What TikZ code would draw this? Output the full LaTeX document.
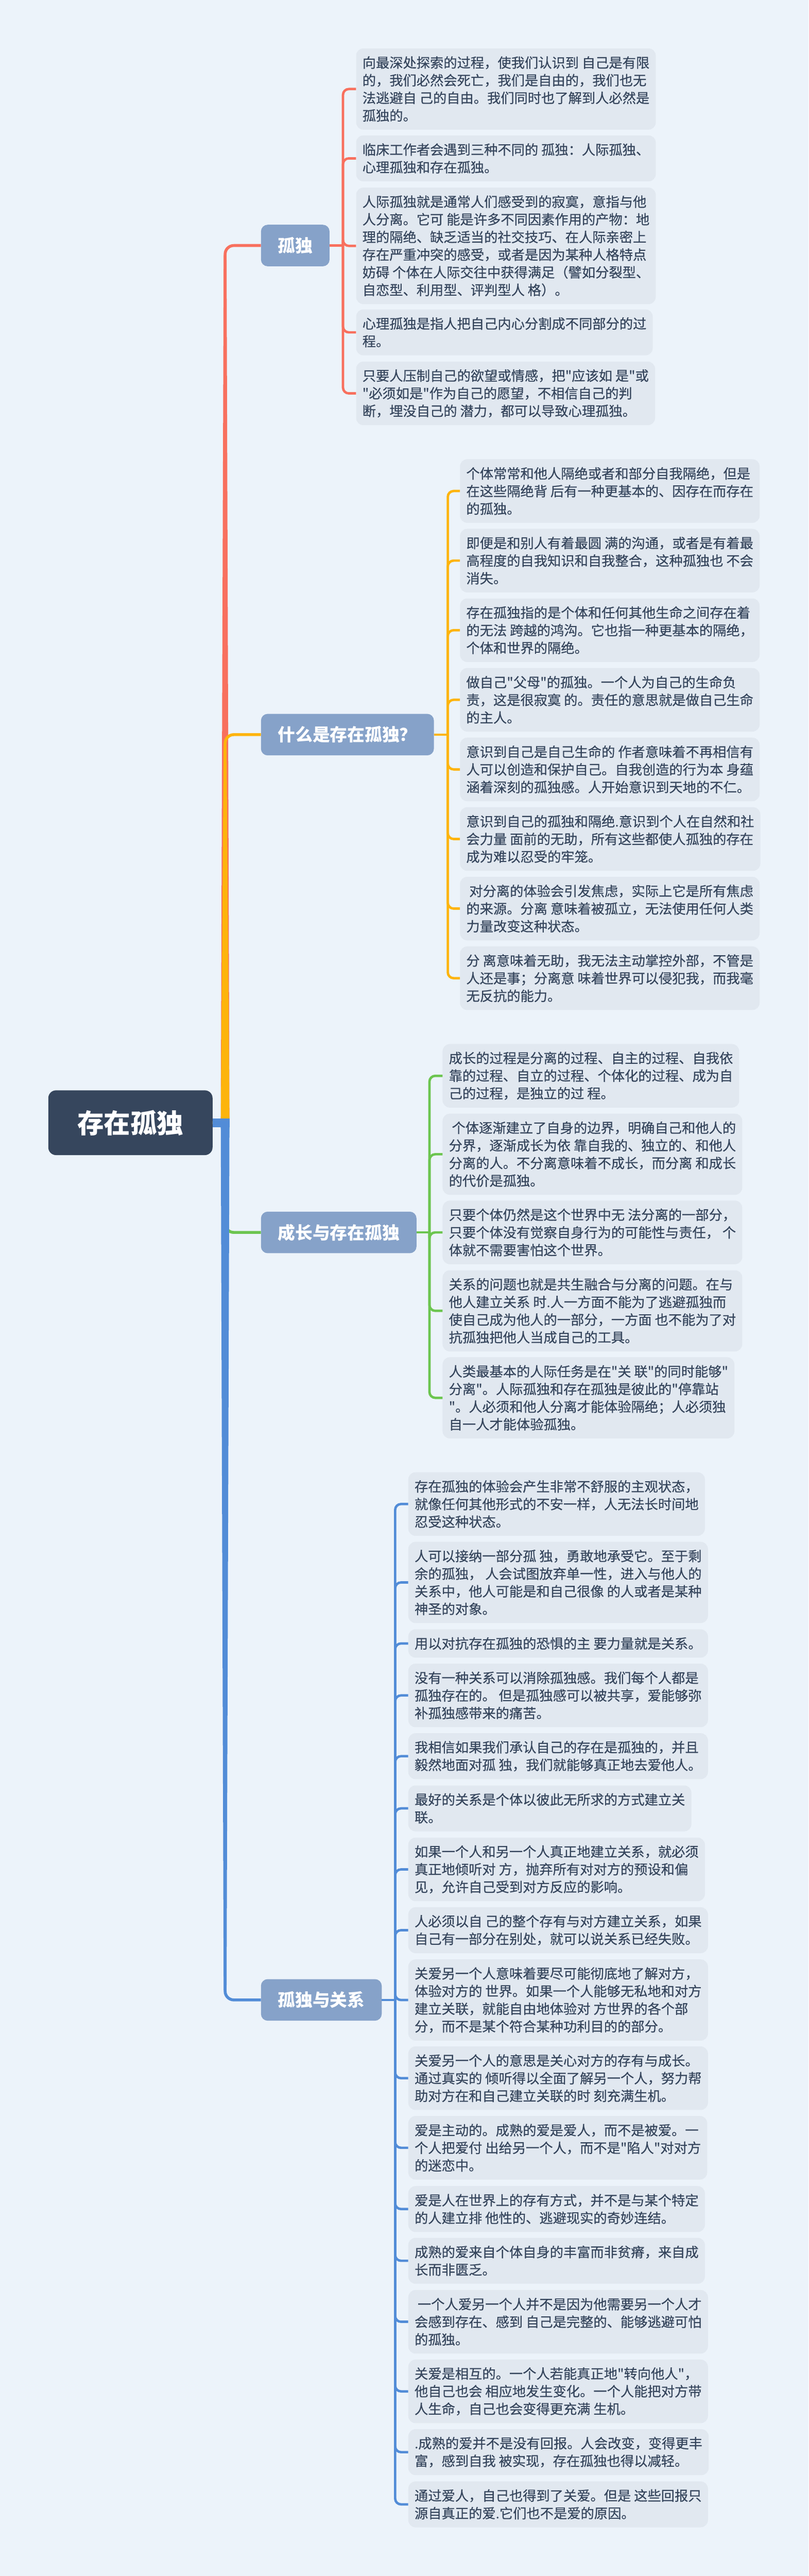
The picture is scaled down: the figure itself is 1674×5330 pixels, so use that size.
\documentclass[tikz,border=0pt]{standalone}
\usepackage{fontspec}
\newfontfamily\cjk{Noto Sans CJK SC}
\newfontfamily\cjkleaf{Noto Sans CJK SC}[FakeBold=0.6]
\usepackage{tikz}
\usetikzlibrary{calc}

\definecolor{bgblue}{HTML}{ECF3FA}
\definecolor{leaffill}{HTML}{E1E8F0}
\definecolor{inkslate}{HTML}{36465D}
\definecolor{branchfill}{HTML}{86A2C9}
\definecolor{linkred}{HTML}{F8705E}
\definecolor{linkyellow}{HTML}{FDB40C}
\definecolor{linkgreen}{HTML}{6CC550}
\definecolor{linkblue}{HTML}{528CD7}

\tikzset{
    rootbox/.style={fill=inkslate, rounded corners=16pt, text=white,
        font=\cjk\bfseries\fontsize{55}{60}\selectfont,
        minimum width=340pt, minimum height=134pt},
    branchbox/.style={fill=branchfill, rounded corners=14pt, anchor=west, text=white,
        font=\cjk\bfseries\fontsize{36}{40}\selectfont,
        inner xsep=35pt, minimum height=86pt},
    leafbox/.style={fill=leaffill, rounded corners=15pt, anchor=north west,
        align=left, text=inkslate, inner xsep=13pt, inner ysep=4pt,
        font=\cjkleaf\fontsize{28}{36.5}\selectfont,
        minimum height={36.5pt*#1+22pt}},
    mainlink/.style={line width=6pt, rounded corners=18pt},
    leaflink/.style={line width=5pt, rounded corners=12pt}
}

\begin{document}
\begin{tikzpicture}[x=1pt, y=-1pt]
        % Canvas
        \fill[bgblue] (0,0) rectangle (1674,5330);
        \useasboundingbox (0,0) rectangle (1674,5330);

        % Root and main branches
        \node[rootbox] (root) at (270,2323) {存在孤独};
        \node[branchbox] (gudu) at (540,508) {孤独};
        \node[branchbox] (shenme) at (540,1520) {什么是存在孤独？};
        \node[branchbox] (chengzhang) at (540,2550) {成长与存在孤独};
        \node[branchbox] (guanxi) at (540,4138) {孤独与关系};

        % Leaves of 孤独
        \node[leafbox=4] (A1) at (737,100) {向最深处探索的过程，使我们认识到 自己是有限\\的，我们必然会死亡，我们是自由的，我们也无\\法逃避自 己的自由。我们同时也了解到人必然是\\孤独的。};
        \node[leafbox=2] (A2) at (737,280) {临床工作者会遇到三种不同的 孤独：人际孤独、\\心理孤独和存在孤独。};
        \node[leafbox=6] (A3) at (737,388) {人际孤独就是通常人们感受到的寂寞，意指与他\\人分离。它可 能是许多不同因素作用的产物：地\\理的隔绝、缺乏适当的社交技巧、在人际亲密上\\存在严重冲突的感受，或者是因为某种人格特点\\妨碍 个体在人际交往中获得满足（譬如分裂型、\\自恋型、利用型、评判型人 格）。};
        \node[leafbox=2] (A4) at (737,640) {心理孤独是指人把自己内心分割成不同部分的过\\程。};
        \node[leafbox=3] (A5) at (737,748) {只要人压制自己的欲望或情感，把"应该如 是"或\\"必须如是"作为自己的愿望，不相信自己的判\\断，埋没自己的 潜力，都可以导致心理孤独。};

        % Leaves of 什么是存在孤独
        \node[leafbox=3] (B1) at (952,950) {个体常常和他人隔绝或者和部分自我隔绝，但是\\在这些隔绝背 后有一种更基本的、因存在而存在\\的孤独。};
        \node[leafbox=3] (B2) at (952,1094) {即便是和别人有着最圆 满的沟通，或者是有着最\\高程度的自我知识和自我整合，这种孤独也 不会\\消失。};
        \node[leafbox=3] (B3) at (952,1238) {存在孤独指的是个体和任何其他生命之间存在着\\的无法 跨越的鸿沟。它也指一种更基本的隔绝，\\个体和世界的隔绝。};
        \node[leafbox=3] (B4) at (952,1382) {做自己"父母"的孤独。一个人为自己的生命负\\责，这是很寂寞 的。责任的意思就是做自己生命\\的主人。};
        \node[leafbox=3] (B5) at (952,1526) {意识到自己是自己生命的 作者意味着不再相信有\\人可以创造和保护自己。自我创造的行为本 身蕴\\涵着深刻的孤独感。人开始意识到天地的不仁。};
        \node[leafbox=3] (B6) at (952,1670) {意识到自己的孤独和隔绝.意识到个人在自然和社\\会力量 面前的无助，所有这些都使人孤独的存在\\成为难以忍受的牢笼。};
        \node[leafbox=3] (B7) at (952,1814) {\ 对分离的体验会引发焦虑，实际上它是所有焦虑\\的来源。分离 意味着被孤立，无法使用任何人类\\力量改变这种状态。};
        \node[leafbox=3] (B8) at (952,1958) {分 离意味着无助，我无法主动掌控外部，不管是\\人还是事；分离意 味着世界可以侵犯我，而我毫\\无反抗的能力。};

        % Leaves of 成长与存在孤独
        \node[leafbox=3] (C1) at (916,2160) {成长的过程是分离的过程、自主的过程、自我依\\靠的过程、自立的过程、个体化的过程、成为自\\己的过程，是独立的过 程。};
        \node[leafbox=4] (C2) at (916,2304) {\ 个体逐渐建立了自身的边界，明确自己和他人的\\分界，逐渐成长为依 靠自我的、独立的、和他人\\分离的人。不分离意味着不成长，而分离 和成长\\的代价是孤独。};
        \node[leafbox=3] (C3) at (916,2484) {只要个体仍然是这个世界中无 法分离的一部分，\\只要个体没有觉察自身行为的可能性与责任，\ 个\\体就不需要害怕这个世界。};
        \node[leafbox=4] (C4) at (916,2628) {关系的问题也就是共生融合与分离的问题。在与\\他人建立关系 时.人一方面不能为了逃避孤独而\\使自己成为他人的一部分，一方面 也不能为了对\\抗孤独把他人当成自己的工具。};
        \node[leafbox=4] (C5) at (916,2808) {人类最基本的人际任务是在"关 联"的同时能够"\\分离"。人际孤独和存在孤独是彼此的"停靠站\\"。人必须和他人分离才能体验隔绝；人必须独\\自一人才能体验孤独。};

        % Leaves of 孤独与关系
        \node[leafbox=3] (D1) at (845,3046) {存在孤独的体验会产生非常不舒服的主观状态，\\就像任何其他形式的不安一样，人无法长时间地\\忍受这种状态。};
        \node[leafbox=4] (D2) at (845,3190) {人可以接纳一部分孤 独，勇敢地承受它。至于剩\\余的孤独，\ 人会试图放弃单一性，进入与他人的\\关系中，他人可能是和自己很像 的人或者是某种\\神圣的对象。};
        \node[leafbox=1] (D3) at (845,3371) {用以对抗存在孤独的恐惧的主 要力量就是关系。};
        \node[leafbox=3] (D4) at (845,3442) {没有一种关系可以消除孤独感。我们每个人都是\\孤独存在的。\ 但是孤独感可以被共享，爱能够弥\\补孤独感带来的痛苦。};
        \node[leafbox=2] (D5) at (845,3586) {我相信如果我们承认自己的存在是孤独的，并且\\毅然地面对孤 独，我们就能够真正地去爱他人。};
        \node[leafbox=2] (D6) at (845,3694) {最好的关系是个体以彼此无所求的方式建立关\\联。};
        \node[leafbox=3] (D7) at (845,3802) {如果一个人和另一个人真正地建立关系，就必须\\真正地倾听对 方，抛弃所有对对方的预设和偏\\见，允许自己受到对方反应的影响。};
        \node[leafbox=2] (D8) at (845,3946) {人必须以自 己的整个存有与对方建立关系，如果\\自己有一部分在别处，就可以说关系已经失败。};
        \node[leafbox=4] (D9) at (845,4054) {关爱另一个人意味着要尽可能彻底地了解对方，\\体验对方的 世界。如果一个人能够无私地和对方\\建立关联，就能自由地体验对 方世界的各个部\\分，而不是某个符合某种功利目的的部分。};
        \node[leafbox=3] (D10) at (845,4234) {关爱另一个人的意思是关心对方的存有与成长。\\通过真实的 倾听得以全面了解另一个人，努力帮\\助对方在和自己建立关联的时 刻充满生机。};
        \node[leafbox=3] (D11) at (845,4378) {爱是主动的。成熟的爱是爱人，而不是被爱。一\\个人把爱付 出给另一个人，而不是"陷人"对对方\\的迷恋中。};
        \node[leafbox=2] (D12) at (845,4523) {爱是人在世界上的存有方式，并不是与某个特定\\的人建立排 他性的、逃避现实的奇妙连结。};
        \node[leafbox=2] (D13) at (845,4630) {成熟的爱来自个体自身的丰富而非贫瘠，来自成\\长而非匮乏。};
        \node[leafbox=3] (D14) at (845,4738) {\ 一个人爱另一个人并不是因为他需要另一个人才\\会感到存在、感到 自己是完整的、能够逃避可怕\\的孤独。};
        \node[leafbox=3] (D15) at (845,4882) {关爱是相互的。一个人若能真正地"转向他人"，\\他自己也会 相应地发生变化。一个人能把对方带\\人生命，自己也会变得更充满 生机。};
        \node[leafbox=2] (D16) at (845,5026) {.成熟的爱并不是没有回报。人会改变，变得更丰\\富，感到自我 被实现，存在孤独也得以减轻。};
        \node[leafbox=2] (D17) at (845,5134) {通过爱人，自己也得到了关爱。但是 这些回报只\\源自真正的爱.它们也不是爱的原因。};

        % Main links, thick at the root and thinning out
        \coordinate (hub) at (466,2323);
        \foreach \nd/\col/\ye in {gudu/linkred/528, shenme/linkyellow/1540, chengzhang/linkgreen/2530, guanxi/linkblue/4118} {
            \fill[\col] (457,2323) -- (463,\ye) -- (469,\ye) -- (475,2323) -- cycle;
            \fill[\col] (440,2314) rectangle (475,2332);
            \draw[mainlink, \col] (root.east) -- (hub) |- (\nd.west);
        }

        % Leaf links
        \coordinate (ta) at (710,508);
        \coordinate (tb) at (927,1520);
        \coordinate (tc) at (889,2550);
        \coordinate (td) at (818,4138);
        \draw[leaflink, linkred] (gudu.east) -- (ta);
        \draw[leaflink, linkyellow] (shenme.east) -- (tb);
        \draw[leaflink, linkgreen] (chengzhang.east) -- (tc);
        \draw[leaflink, linkblue] (guanxi.east) -- (td);
        \foreach \i in {1,...,5}
            \draw[leaflink, linkred] (ta) |- (A\i.west);
        \foreach \i in {1,...,8}
            \draw[leaflink, linkyellow] (tb) |- (B\i.west);
        \foreach \i in {1,...,5}
            \draw[leaflink, linkgreen] (tc) |- (C\i.west);
        \foreach \i in {1,...,17}
            \draw[leaflink, linkblue] (td) |- (D\i.west);
    \end{tikzpicture}
\end{document}
